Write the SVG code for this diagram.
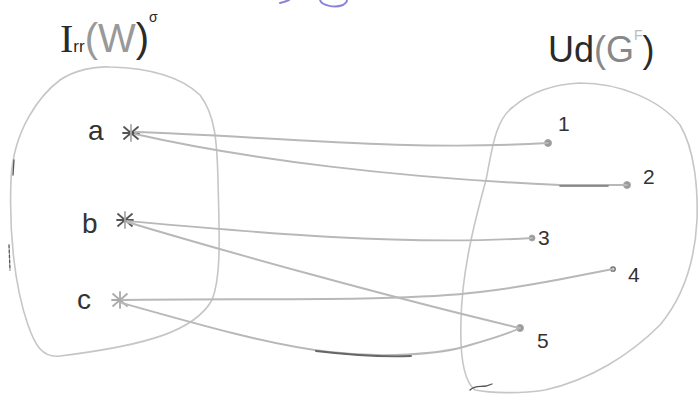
<svg xmlns="http://www.w3.org/2000/svg" width="699" height="403" viewBox="0 0 699 403">
<style>
.blob{fill:none;stroke:#c6c6c6;stroke-width:1.6;stroke-linecap:round}
.edge{fill:none;stroke:#b8b8b8;stroke-width:1.9;stroke-linecap:round}
.dark{fill:none;stroke:#555;stroke-width:2;stroke-linecap:round}
.star{stroke:#555;stroke-width:1.8;stroke-linecap:round}
.dot{fill:#999;stroke:#aaa;stroke-width:1}
.lbl{font-family:"Liberation Sans",Arial,sans-serif;fill:#333;font-size:28px}
.num{font-family:"Liberation Sans",Arial,sans-serif;fill:#333;font-size:21px}
.ttl{font-family:"Liberation Sans",Arial,sans-serif;fill:#2a2a2a}
.purple{fill:none;stroke:#8a84d8;stroke-width:2;stroke-linecap:round}
</style>
<rect width="699" height="403" fill="#ffffff"/>
<path class="purple" d="M280,3 C284,2 287,1 289,0"/>
<path class="purple" d="M320,0 C322,6 335,8 343,5 C346,3 347,1 347,0"/>
<g id="set-left">
<path class="blob" d="M110,67 C150,68 180,76 200,95 C215,115 217,140 218,180 C219,230 222,275 212,300 C195,330 150,345 60,356 C42,358 35,345 28,325 C14,285 9,230 11,180 C13,130 40,95 60,80 C75,70 95,66 110,67 Z"/>
<path class="dark" style="stroke-width:1.3" d="M14,160 L13,175"/>
<path class="dark" style="stroke-width:1.3;stroke-dasharray:3 2" d="M9,245 L10,270"/>
<text class="ttl" x="60" y="52" font-size="40"><tspan font-family="Liberation Serif, serif">I</tspan><tspan font-size="17">rr</tspan><tspan fill="#999">(W</tspan>)<tspan font-size="14" dy="-30">σ</tspan></text>
</g>
<g id="set-right">
<path class="blob" d="M580,83 C620,83 660,100 680,125 C695,150 698,190 697,220 C695,260 685,295 660,325 C630,355 590,380 545,390 C520,394 490,393 475,390 C462,380 460,350 461,320 C462,270 475,220 486,180 C492,150 495,120 513,107 C530,92 555,84 580,83 Z"/>
<path class="dark" style="stroke-width:1.3" d="M470,390 C475,385 480,387 486,386 L492,384"/>
<text class="ttl" x="548" y="62" font-size="36">Ud<tspan fill="#888">(G</tspan><tspan fill="#bbb" font-size="14" dy="-22">F</tspan><tspan dy="22">)</tspan></text>
</g>
<g id="node-a">
<text class="lbl" x="88" y="140">a</text>
<g class="star"><line x1="124" y1="127" x2="138" y2="139"/><line x1="124" y1="139" x2="138" y2="127"/><line x1="123" y1="133" x2="139" y2="133"/><line x1="131" y1="125" x2="131" y2="141" stroke="#aaa"/></g>
</g>
<g id="node-b">
<text class="lbl" x="82" y="233">b</text>
<g class="star"><line x1="118" y1="214" x2="132" y2="226"/><line x1="118" y1="226" x2="132" y2="214"/><line x1="117" y1="220" x2="133" y2="220"/><line x1="125" y1="212" x2="125" y2="228" stroke="#aaa"/></g>
</g>
<g id="node-c">
<text class="lbl" x="77" y="309">c</text>
<g class="star" style="stroke:#aaa"><line x1="113" y1="294" x2="127" y2="306"/><line x1="113" y1="306" x2="127" y2="294"/><line x1="112" y1="300" x2="128" y2="300"/><line x1="120" y1="292" x2="120" y2="308"/></g>
</g>
<g id="node-1"><circle class="dot" cx="548" cy="143" r="3.5"/><text class="num" x="558" y="131">1</text></g>
<g id="node-2"><circle class="dot" cx="627" cy="185" r="3.5"/><text class="num" x="643" y="184">2</text></g>
<g id="node-3"><circle class="dot" cx="532" cy="238" r="3"/><text class="num" x="538" y="245">3</text></g>
<g id="node-4"><circle cx="613" cy="269" r="2.2" fill="#fff" stroke="#666" stroke-width="1.3"/><text class="num" x="628" y="282">4</text></g>
<g id="node-5"><circle class="dot" cx="520" cy="328" r="3.5"/><text class="num" x="537" y="348">5</text></g>
<g id="connectors">
<path class="edge" d="M135,132 C250,135 400,152 548,143"/>
<path class="edge" d="M135,134 C250,160 400,178 560,185 L627,185"/>
<path class="dark" style="stroke:#777;stroke-width:1.6" d="M560,186 L608,186"/>
<path class="edge" d="M127,221 C250,232 400,246 532,238"/>
<path class="edge" d="M127,222 C220,250 400,300 520,328"/>
<path class="edge" d="M122,300 C250,298 400,302 480,292 C540,285 580,275 613,269"/>
<path class="edge" d="M122,303 C200,325 270,345 330,352 C380,358 440,355 470,345 C495,338 510,333 520,328"/>
<path class="dark" style="stroke:#666;stroke-width:1.8" d="M316,351 C350,355 385,357 411,356"/>
</g>
</svg>
